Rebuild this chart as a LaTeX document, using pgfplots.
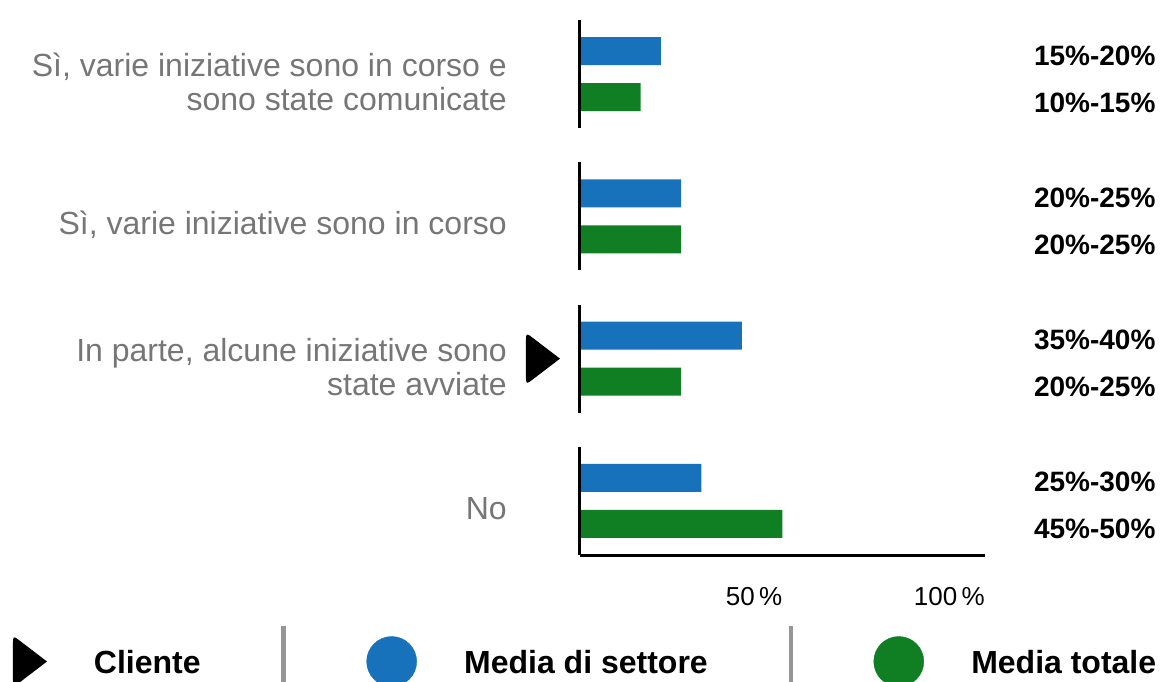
\documentclass[border=0pt]{standalone}
\usepackage{fontspec}
\setmainfont{Liberation Sans}
\usepackage{pgfplots}
\usepackage{pgfplotstable}
\pgfplotsset{compat=1.18}

\definecolor{cblue}{RGB}{23,114,187}
\definecolor{cgreen}{RGB}{16,127,36}
\definecolor{labgray}{RGB}{118,118,118}
\definecolor{sepgray}{RGB}{150,150,150}

\newcommand\catfont{\fontsize{32}{34}\selectfont}
\newcommand\legfont{\fontsize{32}{38}\selectfont\bfseries}
\newcommand\rfont{\fontsize{28}{32}\selectfont\bfseries}
\newcommand\tickfont{\fontsize{26}{30}\selectfont}

% "play" shaped marker with rounded back corners
\pgfdeclareplotmark{cliente}{%
  \pgfpathmoveto{\pgfpoint{0.654\pgfplotmarksize}{0pt}}%
  \pgfpathlineto{\pgfpoint{-0.38\pgfplotmarksize}{0.79\pgfplotmarksize}}%
  \pgfpathcurveto{\pgfpoint{-0.654\pgfplotmarksize}{\pgfplotmarksize}}{\pgfpoint{-0.654\pgfplotmarksize}{\pgfplotmarksize}}{\pgfpoint{-0.654\pgfplotmarksize}{0.64\pgfplotmarksize}}%
  \pgfpathlineto{\pgfpoint{-0.654\pgfplotmarksize}{-0.64\pgfplotmarksize}}%
  \pgfpathcurveto{\pgfpoint{-0.654\pgfplotmarksize}{-\pgfplotmarksize}}{\pgfpoint{-0.654\pgfplotmarksize}{-\pgfplotmarksize}}{\pgfpoint{-0.38\pgfplotmarksize}{-0.79\pgfplotmarksize}}%
  \pgfpathclose
  \pgfusepathqfill}

\pgfplotstableread{
y settore totale
3 20 15
2 25 25
1 40 25
0 30 50
}\datatab

\begin{document}
\begin{tikzpicture}
\begin{axis}[
  name=ax,
  scale only axis,
  width=405pt, height=535pt,
  xmin=0, xmax=100,
  ymin=-0.38, ymax=3.38,
  clip=false,
  axis x line=bottom,
  axis y line=left,
  x axis line style={-, line width=3pt, black},
  y axis line style={draw=none},
  major tick length=0pt,
  tick style={draw=none},
  xtick={50,100},
  xticklabels={50\,\%,100\,\%},
  xticklabel style={anchor=north east, inner sep=0pt, yshift=-32pt, font=\tickfont, text=black},
  ytick={0,1,2,3},
  yticklabels={No,
    {In parte, alcune iniziative sono\\state avviate},
    {Sì, varie iniziative sono in corso},
    {Sì, varie iniziative sono in corso e\\sono state comunicate}},
  yticklabel style={anchor=east, inner sep=0pt, xshift=-73pt, yshift=-8pt, align=right, font=\catfont, text=labgray},
  legend style={at={(axis description cs:0,0)}, anchor=west, xshift=-580pt, yshift=-106.5pt,
    draw=none, fill=none, inner sep=0pt, outer sep=0pt,
    nodes={inner sep=0pt, text depth=0pt, font=\legfont},
    cells={anchor=west}, column sep=0pt},
  legend columns=3,
]
\addlegendimage{legend image code/.code={%
  \path[draw=none, fill=none] (-30pt,-35.5pt) rectangle (64pt,35.5pt);
  \pgfsetfillcolor{black}\pgfsetplotmarksize{26pt}\pgfuseplotmark{cliente}}}
\addlegendentry{Cliente}
\addlegendimage{legend image code/.code={%
  \path[draw=none, fill=none] (-191pt,-35.5pt) rectangle (72.5pt,35.5pt);
  \draw[sepgray, line width=4.5pt] (-108pt,-35.5pt) -- (-108pt,35.5pt);
  \fill[cblue] (0pt,0pt) circle[radius=25pt];}}
\addlegendentry{Media di settore}
\addlegendimage{legend image code/.code={%
  \path[draw=none, fill=none] (-191pt,-35.5pt) rectangle (72.5pt,35.5pt);
  \draw[sepgray, line width=4.5pt] (-108pt,-35.5pt) -- (-108pt,35.5pt);
  \fill[cgreen] (0pt,0pt) circle[radius=25pt];}}
\addlegendentry{Media totale}

\addplot[xbar, bar width=28pt, bar shift=23pt, fill=cblue, draw=none, forget plot]
  table[x=settore, y=y] {\datatab};
\addplot[xbar, bar width=28pt, bar shift=-23pt, fill=cgreen, draw=none, forget plot]
  table[x=totale, y=y] {\datatab};

% client marker
\addplot[only marks, mark=cliente, mark size=26pt, black, forget plot]
  coordinates {(-9.14,1)};

% broken vertical axis segments
\draw[line width=3pt] (axis cs:0,2.62) -- (axis cs:0,3.38);
\draw[line width=3pt] (axis cs:0,1.62) -- (axis cs:0,2.38);
\draw[line width=3pt] (axis cs:0,0.62) -- (axis cs:0,1.38);
\draw[line width=3pt] (axis cs:0,-0.38) -- (axis cs:0,0.38);

% range labels
\node[anchor=base east, font=\rfont] at ([xshift=174pt,yshift=9pt]axis cs:100,3) {15\%-20\%};
\node[anchor=base east, font=\rfont] at ([xshift=174pt,yshift=-38pt]axis cs:100,3) {10\%-15\%};
\node[anchor=base east, font=\rfont] at ([xshift=174pt,yshift=9pt]axis cs:100,2) {20\%-25\%};
\node[anchor=base east, font=\rfont] at ([xshift=174pt,yshift=-38pt]axis cs:100,2) {20\%-25\%};
\node[anchor=base east, font=\rfont] at ([xshift=174pt,yshift=9pt]axis cs:100,1) {35\%-40\%};
\node[anchor=base east, font=\rfont] at ([xshift=174pt,yshift=-38pt]axis cs:100,1) {20\%-25\%};
\node[anchor=base east, font=\rfont] at ([xshift=174pt,yshift=9pt]axis cs:100,0) {25\%-30\%};
\node[anchor=base east, font=\rfont] at ([xshift=174pt,yshift=-38pt]axis cs:100,0) {45\%-50\%};
\end{axis}
\pgfresetboundingbox
\path ([shift={(-580pt,-126pt)}]ax.south west) rectangle ([shift={(582pt,555pt)}]ax.south west);
\end{tikzpicture}
\end{document}
